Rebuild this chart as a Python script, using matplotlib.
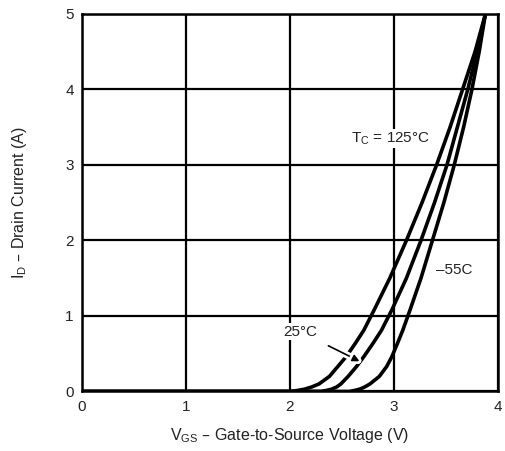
import numpy as np
import matplotlib
matplotlib.use('Agg')
from matplotlib import pyplot as plt
import matplotlib.patheffects as pe

plt.rcParams['font.family'] = ['Liberation Sans', 'DejaVu Sans']

# drain current levels (A)
id_levels = [0, 0, 0.01, 0.03, 0.06, 0.1, 0.2, 0.33, 0.46, 0.64, 0.81, 1.08,
             1.5, 2.0, 2.5, 3.0, 3.5, 4.0, 4.5, 5.0]
# gate voltage for each curve at those levels (V)
vgs_125 = [0, 2.0, 2.06, 2.14, 2.21, 2.28, 2.38, 2.46, 2.54, 2.63, 2.71, 2.81,
           2.96, 3.12, 3.27, 3.41, 3.54, 3.66, 3.78, 3.88]
vgs_25 = [0, 2.3, 2.34, 2.40, 2.45, 2.49, 2.56, 2.64, 2.71, 2.80, 2.88, 2.98,
          3.12, 3.26, 3.39, 3.51, 3.61, 3.71, 3.80, 3.88]
vgs_m55 = [0, 2.57, 2.61, 2.67, 2.72, 2.77, 2.86, 2.93, 2.98, 3.035, 3.085, 3.155,
           3.26, 3.37, 3.48, 3.58, 3.67, 3.75, 3.82, 3.88]

x_ticks = [0, 1, 2, 3, 4]
y_ticks = [0, 1, 2, 3, 4, 5]

fig = plt.figure(figsize=(5.06, 4.51), dpi=100)
ax = fig.add_axes([0.162, 0.132, 0.822, 0.837])

for xs in [vgs_125, vgs_25, vgs_m55]:
    ax.plot(xs, id_levels, color='black', lw=2.6, solid_capstyle='butt',
            solid_joinstyle='round', zorder=3)

ax.set_xlim(0, 4)
ax.set_ylim(0, 5)
ax.set_xticks(x_ticks)
ax.set_yticks(y_ticks)
ax.grid(True, color='black', lw=1.6)
ax.tick_params(length=0, pad=6, labelsize=11, colors='#222222')
for s in ax.spines.values():
    s.set_linewidth(1.8)

ax.set_xlabel(r'V$_{\mathregular{GS}}$ – Gate-to-Source Voltage (V)', fontsize=11.5,
              labelpad=9, color='#222222')
ax.set_ylabel(r'I$_{\mathregular{D}}$ – Drain Current (A)', fontsize=11.5,
              labelpad=26, color='#222222')

box = dict(facecolor='white', edgecolor='none', pad=1)
ax.text(2.97, 3.35, r'T$_{\mathregular{C}}$ = 125°C', fontsize=11, ha='center', va='center',
        bbox=box, zorder=4, color='#222222')
ax.text(3.40, 1.61, '–55C', fontsize=11, ha='left', va='center', color='#222222', zorder=4)
ax.annotate('25°C', xy=(2.67, 0.40), xytext=(2.10, 0.79), fontsize=11, ha='center', va='center',
            color='#222222', bbox=box, zorder=4,
            arrowprops=dict(arrowstyle='-|>', color='black', lw=1.2, shrinkA=9, shrinkB=0,
                            mutation_scale=10,
                            path_effects=[pe.Stroke(linewidth=5, foreground='white'), pe.Normal()]))

fig.savefig('out.png', dpi=100)
